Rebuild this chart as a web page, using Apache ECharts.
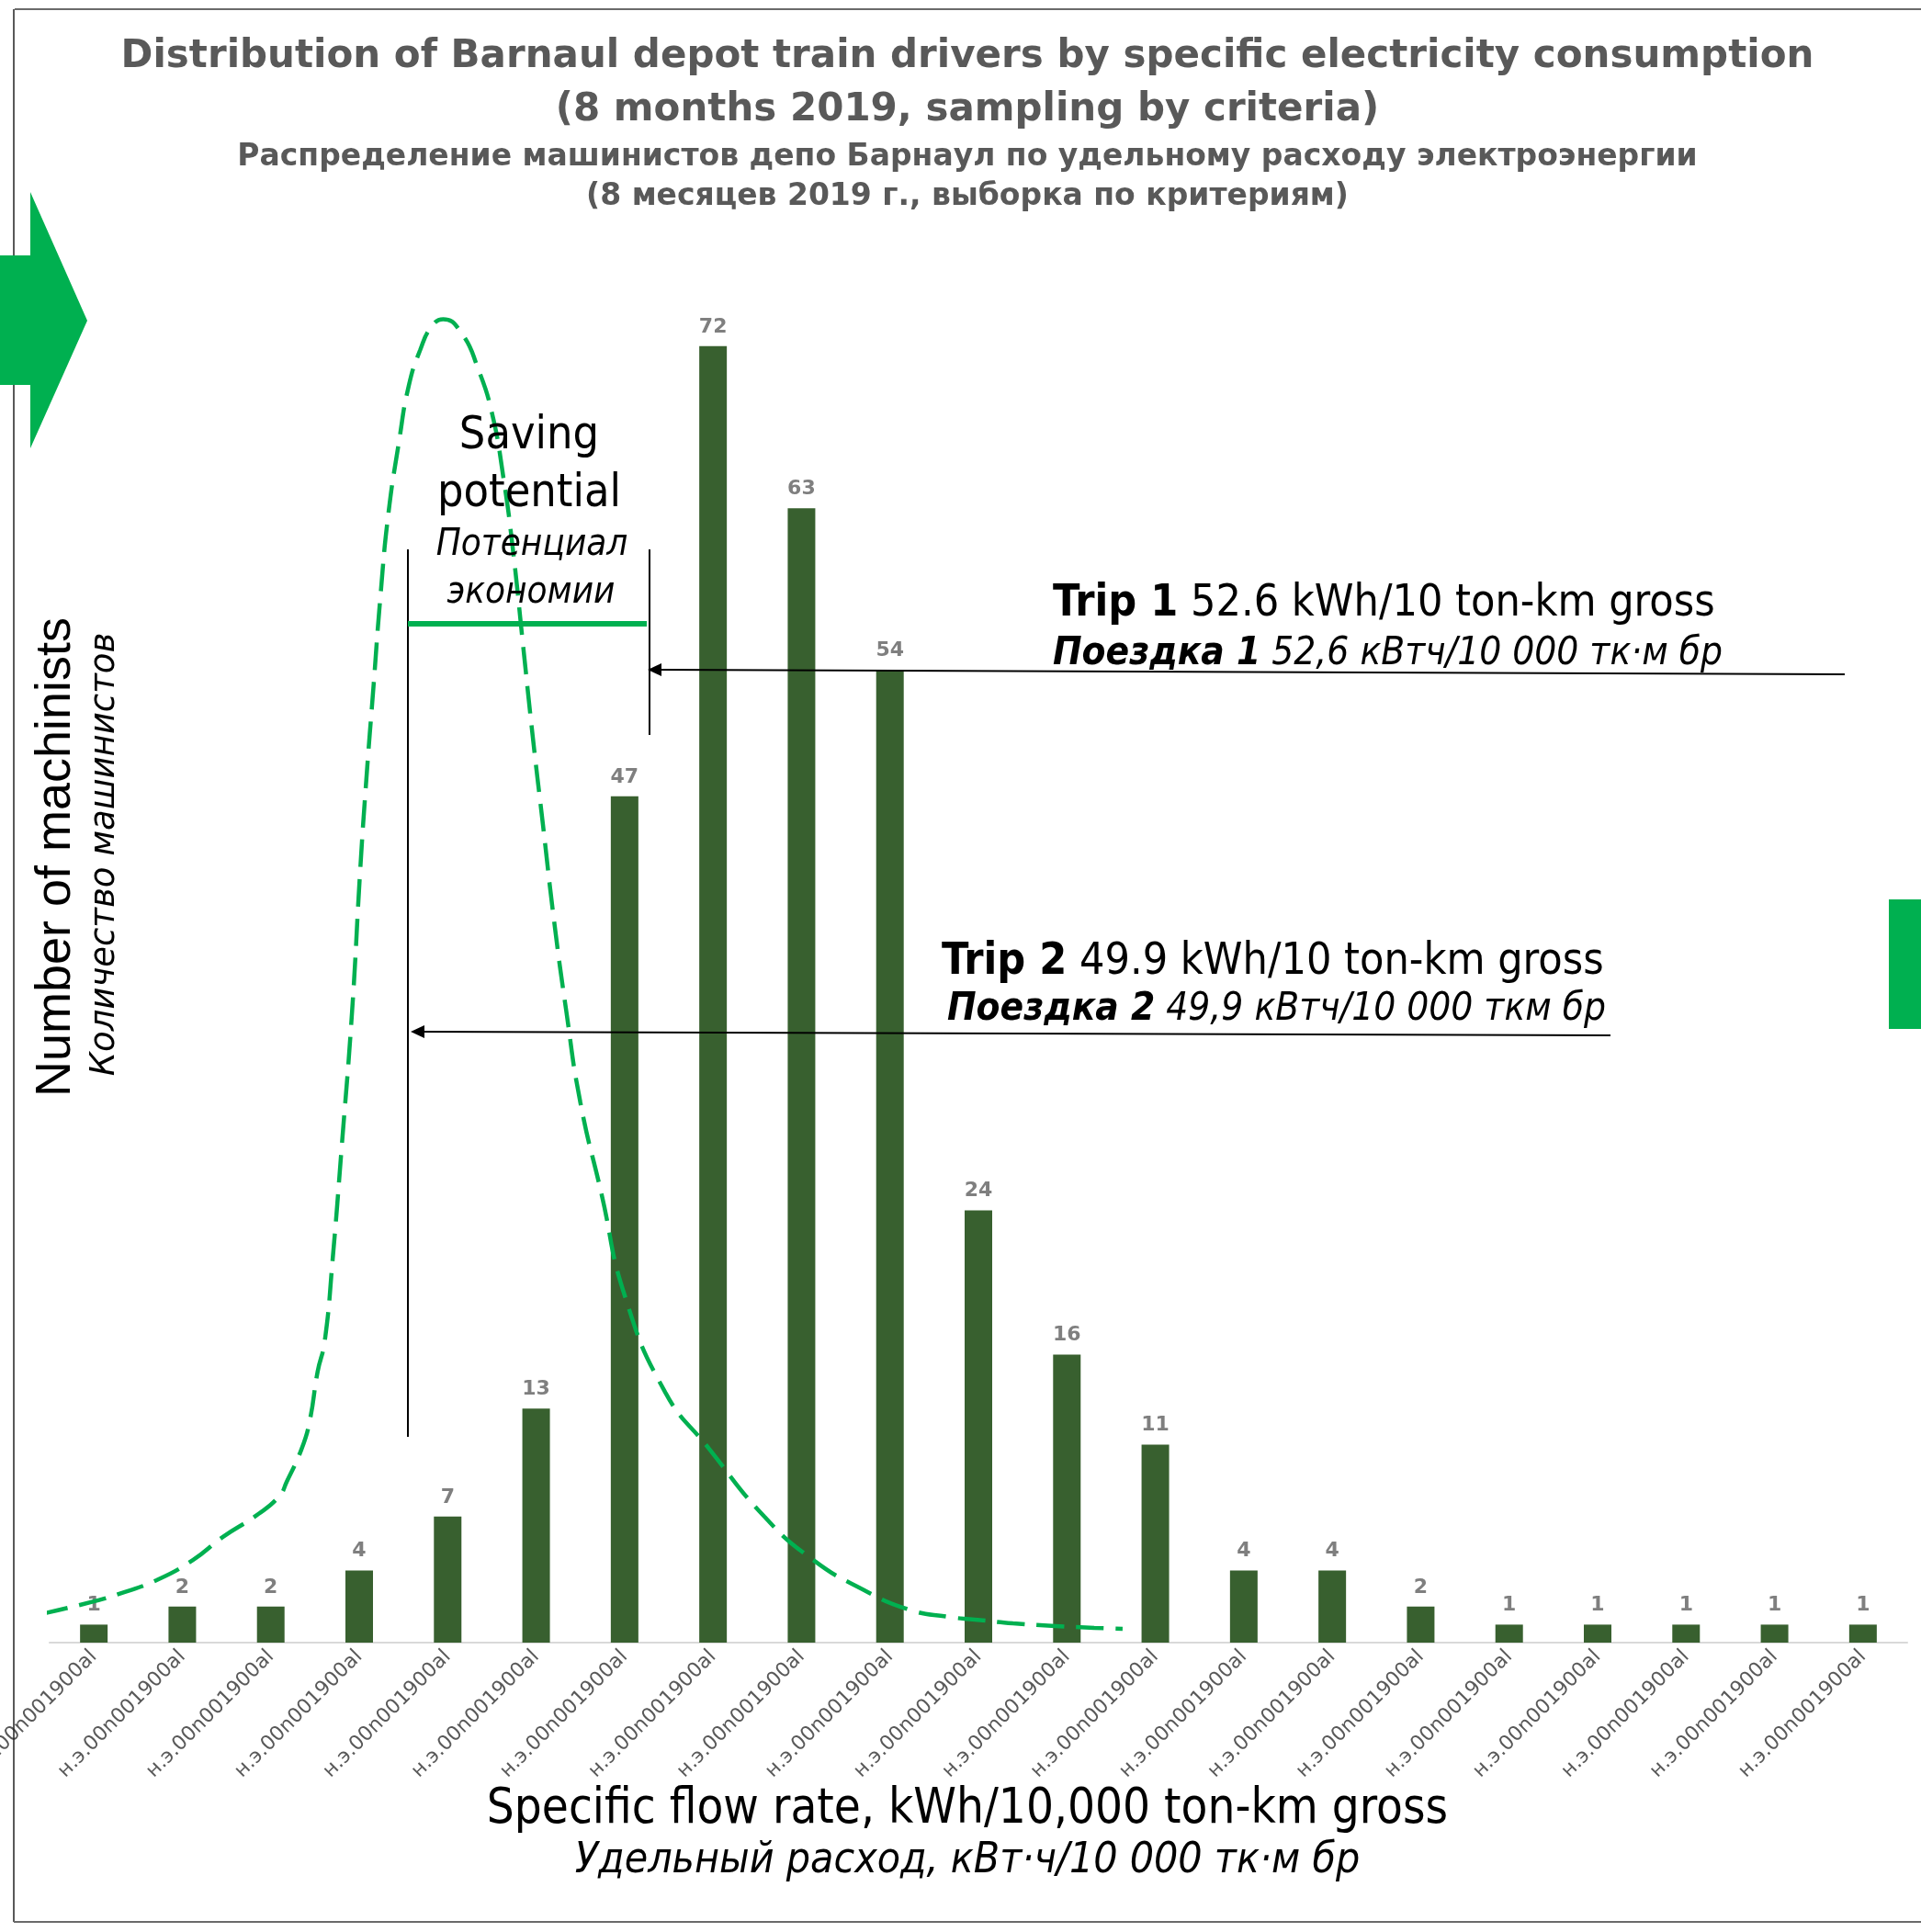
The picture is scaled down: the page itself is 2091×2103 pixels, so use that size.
<!DOCTYPE html>
<html>
<head>
<meta charset="utf-8">
<script src="https://cdn.jsdelivr.net/npm/echarts@6/dist/echarts.min.js"></script>
<style>
  html, body { margin: 0; padding: 0; background: #ffffff; }
  #chart { width: 2091px; height: 2103px; }
</style>
</head>
<body>
<div id="chart"></div>
<script>
// Bins of specific consumption (all bins carry the same placeholder label)
const categories = [
  'н.э.00n001900al', 'н.э.00n001900al', 'н.э.00n001900al', 'н.э.00n001900al',
  'н.э.00n001900al', 'н.э.00n001900al', 'н.э.00n001900al', 'н.э.00n001900al',
  'н.э.00n001900al', 'н.э.00n001900al', 'н.э.00n001900al', 'н.э.00n001900al',
  'н.э.00n001900al', 'н.э.00n001900al', 'н.э.00n001900al', 'н.э.00n001900al',
  'н.э.00n001900al', 'н.э.00n001900al', 'н.э.00n001900al', 'н.э.00n001900al',
  'н.э.00n001900al'
];

// Number of drivers in each bin
const drivers = [1, 2, 2, 4, 7, 13, 47, 72, 63, 54, 24, 16, 11, 4, 4, 2, 1, 1, 1, 1, 1];

// Target distribution curve (x in bin-index units, y in drivers)
const curveX = [-0.60, 0.01, 0.28, 0.71, 1.12, 1.46, 1.86, 2.10, 2.18, 2.35, 2.44, 2.53, 2.61,
  2.70, 2.80, 2.92, 3.01, 3.08, 3.16, 3.24, 3.33, 3.45, 3.56, 3.69, 3.82, 3.95,
  4.16, 4.34, 4.50, 4.63, 4.74, 4.85, 4.96, 5.08, 5.20, 5.34, 5.50, 5.74, 6.00, 6.46,
  6.95, 7.58, 8.13, 8.69, 9.21, 9.66, 9.96, 10.39, 10.87, 11.31, 11.63];
const curveY = [1.58, 2.30, 2.70, 3.47, 4.59, 5.87, 7.14, 8.16, 8.93, 10.77, 12.30, 15.05, 16.73,
  21.3, 27.4, 35.1, 42.8, 47.9, 53.0, 58.1, 62.7, 66.7, 69.8, 71.8, 73.1, 73.5,
  72.7, 70.8, 68.3, 64.7, 60.6, 55.5, 50.4, 45.3, 40.2, 35.1, 30.0, 24.9, 19.3, 13.9,
  10.8, 7.0, 4.6, 2.96, 1.84, 1.43, 1.28, 1.07, 0.92, 0.82, 0.77];

const titleLines = [
  'Distribution of Barnaul depot train drivers by specific electricity consumption',
  '(8 months 2019, sampling by criteria)',
  'Распределение машинистов депо Барнаул по удельному расходу электроэнергии',
  '(8 месяцев 2019 г., выборка по критериям)'
];

const GREEN = '#00B050';
const BAR = '#38602F';
const COND = '"DejaVu Sans Condensed", "DejaVu Sans", sans-serif';
const WIDE = '"DejaVu Sans", Verdana, sans-serif';

const chart = echarts.init(document.getElementById('chart'), null, { renderer: 'canvas' });

function txt(x, y, text, font, opts) {
  const o = opts || {};
  return {
    type: 'text', x: x, y: y, z: o.z || 20, rotation: o.rotation || 0,
    style: Object.assign({
      text: text, font: font, fill: o.fill || '#000',
      textAlign: o.align || 'center', textVerticalAlign: 'middle',
      align: o.align || 'center', verticalAlign: 'middle'
    }, o.rich ? { rich: o.rich } : {})
  };
}

function line(x1, y1, x2, y2, color, w) {
  return { type: 'line', z: 15, shape: { x1: x1, y1: y1, x2: x2, y2: y2 },
           style: { stroke: color, lineWidth: w } };
}

function arrowHead(tipX, tipY) {
  return { type: 'polygon', z: 15,
           shape: { points: [[tipX, tipY], [tipX + 15, tipY - 7], [tipX + 15, tipY + 7]] },
           style: { fill: '#000' } };
}

const graphics = [
  // frame
  line(16, 10, 2091, 10, '#6a6a6a', 2),
  line(15, 10, 15, 2092, '#222', 1.5),
  line(15, 2092, 2091, 2092, '#6a6a6a', 2),
  // decorative block arrow and side tab
  { type: 'polygon', z: 16,
    shape: { points: [[0, 278], [33, 278], [33, 209], [95, 349], [33, 488], [33, 419], [0, 419]] },
    style: { fill: GREEN } },
  { type: 'rect', z: 16, shape: { x: 2056, y: 979, width: 35, height: 141 }, style: { fill: GREEN } },

  // titles
  txt(1053, 62, titleLines[0], 'bold 42px ' + WIDE, { fill: '#595959' }),
  txt(1053, 120, titleLines[1], 'bold 42px ' + WIDE, { fill: '#595959' }),
  txt(1053, 171, titleLines[2], 'bold 33px ' + WIDE, { fill: '#595959' }),
  txt(1053, 214, titleLines[3], 'bold 33px ' + WIDE, { fill: '#595959' }),

  // axis names
  txt(1053, 1970, 'Specific flow rate, kWh/10,000 ton-km gross', '52.5px ' + COND),
  txt(1053, 2026, 'Удельный расход, кВт·ч/10 000 тк·м бр', 'italic 46px ' + COND),
  txt(61, 933, 'Number of machinists', '54px "Liberation Sans", Arial, sans-serif', { rotation: Math.PI / 2 }),
  txt(114, 930, 'Количество машинистов', 'italic 37px ' + WIDE, { rotation: Math.PI / 2 }),

  // saving-potential bracket
  line(444, 598, 444, 1564, '#000', 2),
  line(707, 598, 707, 800, '#000', 2),
  line(444, 679, 704, 679, GREEN, 6),
  txt(576, 475, 'Saving', '50px ' + COND),
  txt(576, 538, 'potential', '50px ' + COND),
  txt(579, 594, 'Потенциал', 'italic 40px ' + COND),
  txt(578, 646, 'экономии', 'italic 40px ' + COND),

  // trip arrows
  line(2008, 734, 716, 729, '#000', 2),
  arrowHead(705, 729),
  line(1753, 1127, 458, 1123, '#000', 2),
  arrowHead(447, 1123),

  // trip captions
  txt(1146, 658, '{b|Trip 1} 52.6 kWh/10 ton-km gross', '48px ' + COND,
      { align: 'left', rich: { b: { font: 'bold 48px ' + COND } } }),
  txt(1146, 712, '{b|Поездка 1} 52,6 кВтч/10 000 тк·м бр', 'italic 42px ' + COND,
      { align: 'left', rich: { b: { font: 'italic bold 42px ' + COND } } }),
  txt(1025, 1048, '{b|Trip 2} 49.9 kWh/10 ton-km gross', '48px ' + COND,
      { align: 'left', rich: { b: { font: 'bold 48px ' + COND } } }),
  txt(1031, 1099, '{b|Поездка 2} 49,9 кВтч/10 000 ткм бр', 'italic 42px ' + COND,
      { align: 'left', rich: { b: { font: 'italic bold 42px ' + COND } } })
];

const option = {
  backgroundColor: '#ffffff',
  animation: false,
  grid: { left: 54, right: 15, top: 220, bottom: 315, containLabel: false, outerBoundsMode: 'none' },
  xAxis: [
    {
      type: 'category', data: categories, boundaryGap: true,
      axisLine: { show: true, lineStyle: { color: '#d9d9d9', width: 2 } },
      axisTick: { show: false },
      axisLabel: {
        rotate: 45, interval: 0, margin: 12, color: '#595959',
        fontFamily: 'DejaVu Sans', fontSize: 22
      },
      splitLine: { show: false }
    },
    { type: 'value', min: -0.5, max: 20.5, show: false }
  ],
  yAxis: { type: 'value', min: 0, max: 80, show: false, splitLine: { show: false } },
  series: [
    {
      type: 'bar', data: drivers, xAxisIndex: 0, barWidth: 30, z: 2,
      itemStyle: { color: BAR },
      label: {
        show: true, position: 'top', distance: 10, color: '#7f7f7f',
        fontFamily: 'DejaVu Sans', fontWeight: 'bold', fontSize: 22
      }
    },
    {
      type: 'line', xAxisIndex: 1, z: 5, clip: false,
      data: curveX.map((x, i) => [x, curveY[i]]),
      smooth: 0.5, showSymbol: false, symbol: 'none',
      lineStyle: { color: GREEN, width: 4.5, type: [30, 13] }
    }
  ],
  graphic: graphics
};

chart.setOption(option);
</script>
</body>
</html>
